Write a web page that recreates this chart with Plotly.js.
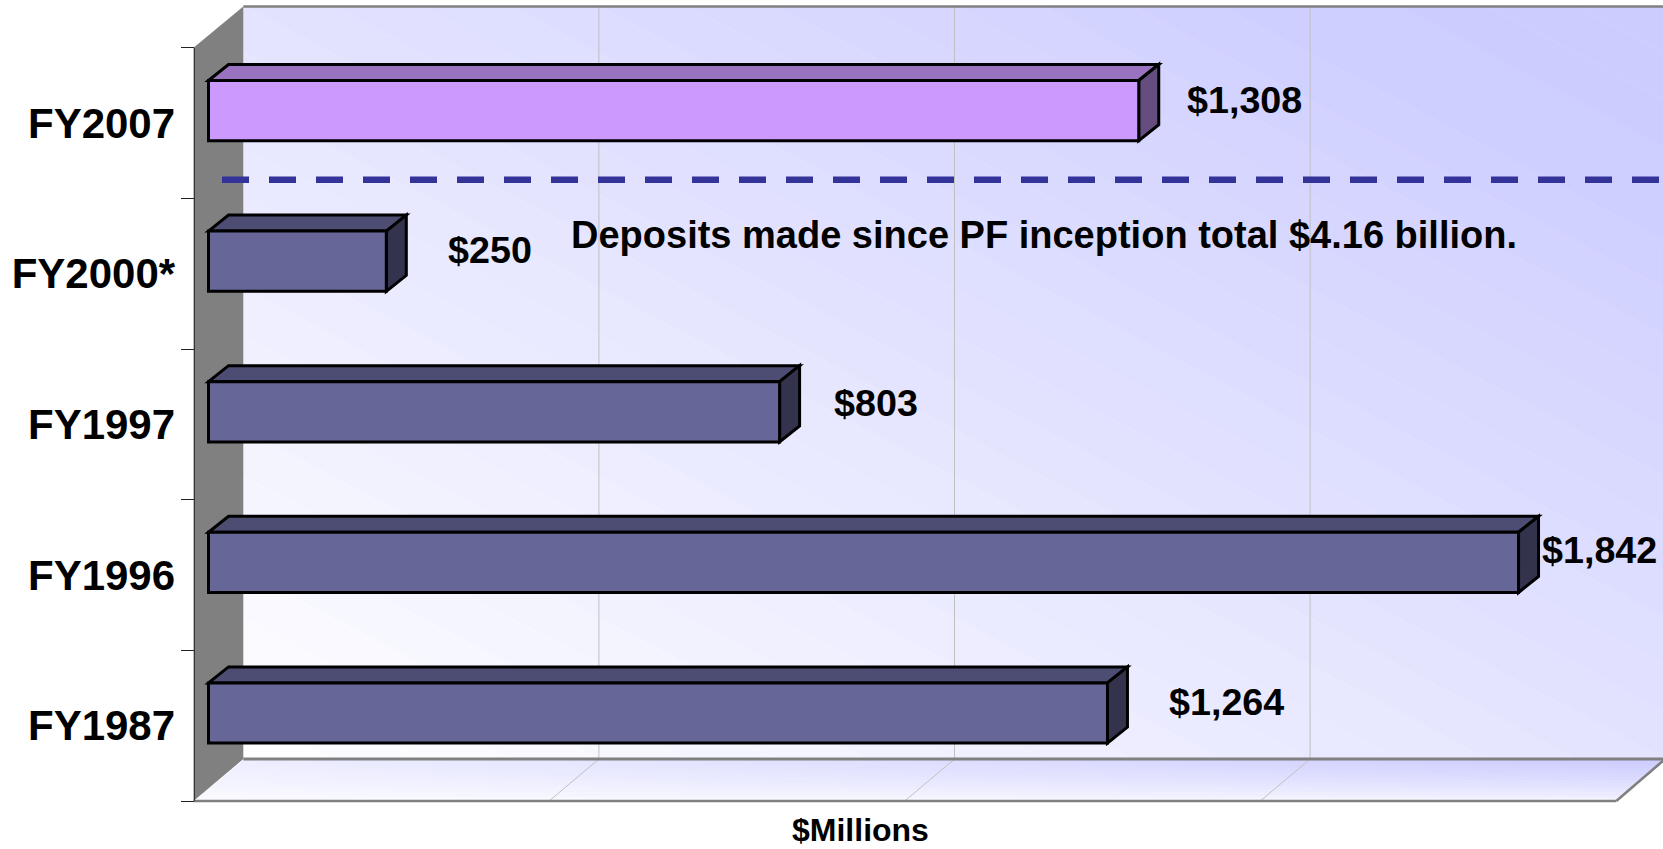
<!DOCTYPE html>
<html><head><meta charset="utf-8">
<script src="https://cdn.plot.ly/plotly-3.0.1.min.js"></script>
<style>html,body{margin:0;padding:0;background:#fff;overflow:hidden}</style>
</head><body><div id="chart" style="width:1663px;height:849px"></div>
<script>
// ---- data ----
const categories = ['FY1987','FY1996','FY1997','FY2000*','FY2007'];
const values = [1264,1842,803,250,1308];
const faceColors = ['#666699','#666699','#666699','#666699','#CC99FF'];
const topColors  = ['#4D4D73','#4D4D73','#4D4D73','#4D4D73','#9973BF'];
const sideColors = ['#33334D','#33334D','#33334D','#33334D','#664D80'];
const gridValues = [0,500,1000,1500,2000];
const noteText = 'Deposits made since PF inception total $4.16 billion.';
const xTitle = '$Millions';
const labelNudgeX = [119,81,96,104,106];
const labelNudgeY = [11,12,9,11,11];

// ---- geometry ----
const W=1663,H=849;
const pxPerUnit=.7112, pxPerCat=150.6;
const barX0=208.5, barY0=713;
const xRange=[-barX0/pxPerUnit,(W-barX0)/pxPerUnit];
const yRange=[-(H-barY0)/pxPerCat,barY0/pxPerCat];
const barWidth=.4, barDX=20/pxPerUnit, barDY=16/pxPerCat;
const wall={l:243.3,t:6.5,b:759}, front={l:193.5,t:47.7,b:801,r:1616.3}, wallW=1421.7;
const px=x=>x/W, py=y=>1-y/H;
const xBack=v=>wall.l+v*pxPerUnit, xFront=v=>front.l+v*pxPerUnit;
const poly=p=>'M'+p.map(q=>q.join(',')).join(' L')+' Z';

function mix(t){const c=Math.round(255-51*Math.min(1,t));return [c,c,255];}
function wallImage(){
  const w=Math.ceil(W-wall.l),h=Math.round(wall.b-wall.t);
  const cv=document.createElement('canvas');cv.width=w;cv.height=h;
  const ctx=cv.getContext('2d'),im=ctx.createImageData(w,h);
  const bands=32;
  for(let y=0;y<h;y++)for(let x=0;x<w;x++){
    const t=(x/wallW+(h-y)/h)/2, q=t*bands, f=q-Math.floor(q);
    const c=mix((Math.floor(q)+.5)/bands/.92);
    const edge=(f<.03)?4:0;
    const i=(y*w+x)*4;
    im.data[i]=Math.min(255,c[0]+edge);im.data[i+1]=Math.min(255,c[1]+edge);im.data[i+2]=255;im.data[i+3]=255;
  }
  ctx.putImageData(im,0,0);return {src:cv.toDataURL(),w,h};
}
function floorImage(){
  const h=Math.round(front.b-wall.b),w=Math.ceil(W-front.l);
  const cv=document.createElement('canvas');cv.width=w;cv.height=h;
  const ctx=cv.getContext('2d'),im=ctx.createImageData(w,h);
  for(let y=0;y<h;y++){
    const depth=1-y/h, dq=Math.ceil(depth*14)/14;
    const shift=depth*(wall.l-front.l);
    for(let x=0;x<w;x++){
      const xr=x-shift, fx=xr/(front.r-front.l);
      if(xr<0||fx>1)continue;
      const t=Math.pow(dq,.6)*(.35+.65*fx), c=mix(t), i=(y*w+x)*4;
      im.data[i]=c[0];im.data[i+1]=c[1];im.data[i+2]=255;im.data[i+3]=255;
    }
  }
  ctx.putImageData(im,0,0);return {src:cv.toDataURL(),w,h};
}
const wi=wallImage(), fi=floorImage();
const images=[
 {source:wi.src,xref:'paper',yref:'paper',x:px(wall.l),y:py(wall.t),sizex:wi.w/W,sizey:wi.h/H,sizing:'stretch',xanchor:'left',yanchor:'top',layer:'below'},
 {source:fi.src,xref:'paper',yref:'paper',x:px(front.l),y:py(wall.b),sizex:fi.w/W,sizey:fi.h/H,sizing:'stretch',xanchor:'left',yanchor:'top',layer:'below'}
];

// ---- chart frame shapes ----
const GREY='#808080', GRID='#C0C0C0';
const paperLine=(x0,y0,x1,y1,color,width,extra)=>Object.assign({type:'line',xref:'paper',yref:'paper',x0:px(x0),y0:py(y0),x1:px(x1),y1:py(y1),line:{color,width},layer:'below'},extra||{});
const shapes=[];
gridValues.slice(1,-1).forEach(v=>{
  shapes.push(paperLine(xBack(v),wall.t,xBack(v),wall.b,GRID,1));
  shapes.push(paperLine(xBack(v),wall.b,xFront(v),front.b,GRID,1));
});
shapes.push({type:'path',xref:'paper',yref:'paper',layer:'below',fillcolor:GREY,line:{width:0},
  path:poly([[px(front.l),py(front.t)],[px(wall.l),py(wall.t)],[px(wall.l),py(wall.b)],[px(front.l),py(front.b)]])});
shapes.push(paperLine(wall.l,wall.t,W,wall.t,GREY,2.5));
shapes.push(paperLine(wall.l,wall.b,W,wall.b,GREY,3));
shapes.push(paperLine(front.l,front.b,front.r,front.b,GREY,2.5));
shapes.push(paperLine(front.r,front.b,wall.l+wallW,wall.b,GREY,2.5));

// ---- 3D faces of the bars, computed from the values ----
values.forEach((v,i)=>{
  const top=i+barWidth/2, bot=i-barWidth/2;
  shapes.push({type:'path',xref:'x',yref:'y',layer:'below',fillcolor:topColors[i],line:{color:'#000',width:3},
    path:poly([[0,top],[barDX,top+barDY],[v+barDX,top+barDY],[v,top]])});
  shapes.push({type:'path',xref:'x',yref:'y',layer:'below',fillcolor:sideColors[i],line:{color:'#000',width:3},
    path:poly([[v,top],[v+barDX,top+barDY],[v+barDX,bot+barDY],[v,bot]])});
});
// divider
shapes.push(paperLine(222,179.7,W,179.7,'#333399',6.5,{line:{color:'#333399',width:6.5,dash:'27px,20px'},layer:'above'}));

const font='"Liberation Sans", Arial, sans-serif';
const annotations=values.map((v,i)=>({
  x:v,y:i,xref:'x',yref:'y',xanchor:'center',yanchor:'middle',xshift:labelNudgeX[i],yshift:labelNudgeY[i],
  text:'<b>$'+v.toLocaleString('en-US')+'</b>',showarrow:false,font:{family:font,size:37.7,color:'#000'}
}));
annotations.push({x:px(1044),y:py(235.5),xref:'paper',yref:'paper',xanchor:'center',yanchor:'middle',showarrow:false,
  text:'<b>'+noteText+'</b>',font:{family:font,size:38,color:'#000'}});
annotations.push({x:px(860.7),y:py(830),xref:'paper',yref:'paper',xanchor:'center',yanchor:'middle',showarrow:false,
  text:'<b>'+xTitle+'</b>',font:{family:font,size:32,color:'#000'}});

const traces=[
 {type:'bar',orientation:'h',x:values,y:categories.map((c,i)=>i),width:barWidth,hoverinfo:'x',
  marker:{color:faceColors,line:{color:'#000',width:3}},xaxis:'x',yaxis:'y'},
 {type:'scatter',mode:'markers',x:values,y:categories,marker:{opacity:0},hoverinfo:'skip',xaxis:'x',yaxis:'y2',cliponaxis:false}
];
const layout={
 width:W,height:H,margin:{l:0,r:0,t:0,b:0},showlegend:false,
 paper_bgcolor:'#fff',plot_bgcolor:'rgba(0,0,0,0)',
 xaxis:{range:xRange,domain:[0,1],visible:false,fixedrange:true},
 yaxis:{range:yRange,domain:[0,1],visible:false,fixedrange:true},
 yaxis2:{type:'category',categoryorder:'array',categoryarray:categories,range:[-.5,categories.length-.5],
   domain:[1-front.b/H,1-front.t/H],anchor:'free',position:px(front.l),side:'left',
   tickson:'boundaries',ticks:'outside',ticklen:13,tickwidth:1,tickcolor:'#222',ticklabelstandoff:10,
   showline:true,linecolor:'#333',linewidth:1,showgrid:false,zeroline:false,fixedrange:true,
   tickfont:{family:font,size:42,color:'#000',weight:'bold'}},
 images,shapes,annotations
};
Plotly.newPlot('chart',traces,layout,{displayModeBar:false,responsive:false});
</script></body></html>
